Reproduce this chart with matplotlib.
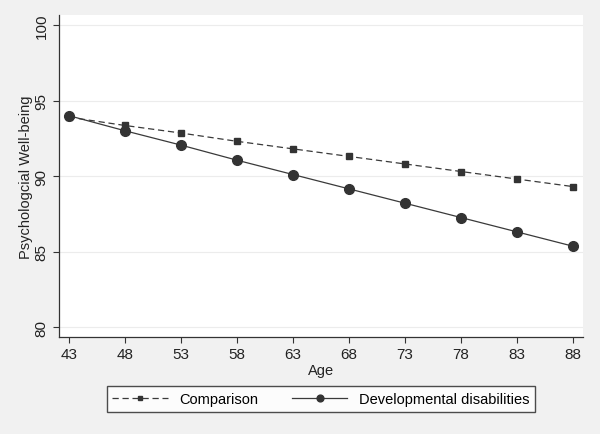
import matplotlib
matplotlib.use("Agg")
import matplotlib.pyplot as plt

# Dữ liệu
ages = [43, 48, 53, 58, 63, 68, 73, 78, 83, 88]
comparison = [93.9, 93.35, 92.85, 92.3, 91.8, 91.3, 90.8, 90.3, 89.8, 89.3]
dev_disab = [94.0, 93.0, 92.05, 91.05, 90.1, 89.15, 88.2, 87.25, 86.3, 85.35]
yticks = [80, 85, 90, 95, 100]

plt.rcParams['font.family'] = ['Liberation Sans', 'DejaVu Sans']

fig = plt.figure(figsize=(6, 4.35), dpi=100, facecolor='#f1f1f1')
ax = fig.add_axes([0.098, 0.223, 0.874, 0.74])
ax.set_facecolor('white')

ax.plot(ages, comparison, linestyle=(0, (5, 3)), color='#3a3a3a', linewidth=0.9,
        marker='s', markersize=5, markerfacecolor='#333333', markeredgecolor='#333333',
        label='Comparison')
ax.plot(ages, dev_disab, linestyle='-', color='#3a3a3a', linewidth=0.9,
        marker='o', markersize=7, markerfacecolor='#333333', markeredgecolor='#333333',
        label='Developmental disabilities')

ax.set_xlim(42.1, 88.9)
ax.set_ylim(79.34, 100.66)
ax.set_xticks(ages)
ax.set_yticks(yticks)
ax.set_yticklabels([str(v) for v in yticks], rotation=90, va='center')
ax.tick_params(axis='both', direction='out', length=4, width=0.8, color='#333333',
               labelsize=11, labelcolor='#222222')
ax.grid(axis='y', color='#ececec', linewidth=0.8)
ax.set_axisbelow(True)

for side in ['top', 'right']:
    ax.spines[side].set_visible(False)
for side in ['left', 'bottom']:
    ax.spines[side].set_color('#333333')
    ax.spines[side].set_linewidth(0.9)

ax.set_xlabel('Age', fontsize=10.5, color='#222222', labelpad=1)
ax.set_ylabel('Psychologcial Well-being', fontsize=10.5, color='#222222', labelpad=1)

leg = ax.legend(loc='upper center', bbox_to_anchor=(0.5, -0.13), ncol=2, frameon=True,
                fancybox=False, edgecolor='#222222', fontsize=10.5, handlelength=3.8,
                columnspacing=2.3, borderpad=0.4, markerscale=0.7)
leg.get_frame().set_linewidth(1.0)

fig.savefig('out.png', dpi=100, facecolor=fig.get_facecolor())
